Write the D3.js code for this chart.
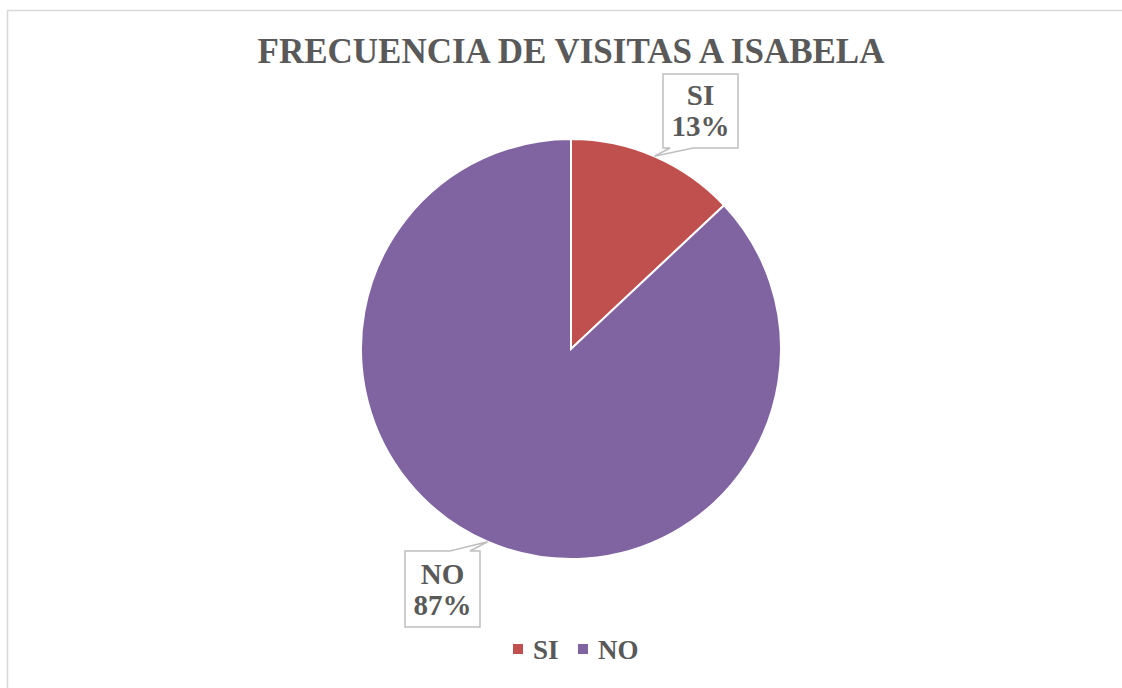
<!DOCTYPE html>
<html lang="es">
<head>
<meta charset="utf-8">
<title>Frecuencia de visitas a Isabela</title>
<script src="https://d3js.org/d3.v7.min.js"></script>
<style>
  body { margin: 0; background: #fff; }
  svg text { font-family: "Liberation Serif", "Times New Roman", serif; font-weight: bold; fill: #595959; }
</style>
</head>
<body>
<svg id="chart" width="1122" height="688"></svg>
<script>
// datos
var categories = ["SI", "NO"];
var values = [13, 87];
var colors = ["#C0504D", "#8064A2"];

var svg = d3.select("#chart"),
    cx = 571, cy = 349, radius = 210;

// marco del grafico
svg.append("rect")
    .attr("x", 7.5).attr("y", 10.5)
    .attr("width", 1130).attr("height", 700)
    .attr("fill", "none").attr("stroke", "#d9d9d9").attr("stroke-width", 1.5);

svg.append("text")
    .attr("x", cx).attr("y", 63)
    .attr("text-anchor", "middle")
    .style("font-size", "35px")
    .text("FRECUENCIA DE VISITAS A ISABELA");

var pie = d3.pie().sort(null).value(function(d) { return d; });
var arcs = pie(values);
var arc = d3.arc().innerRadius(0).outerRadius(radius);
var edge = d3.arc().innerRadius(radius).outerRadius(radius);

var g = svg.append("g").attr("transform", "translate(" + cx + "," + cy + ")");
g.selectAll("path")
    .data(arcs)
    .enter().append("path")
    .attr("d", arc)
    .attr("fill", function(d, i) { return colors[i]; })
    .attr("stroke", "#fff")
    .attr("stroke-width", 2);

// etiquetas con globo
var boxes = [
  { x: 663, y: 74, w: 75, h: 74, base: [670, 693], side: "bottom", lines: [105, 136] },
  { x: 405, y: 551, w: 75, h: 76, base: [450, 470], side: "top", lines: [584, 615] }
];

var total = d3.sum(values);
arcs.forEach(function(d, i) {
  var b = boxes[i];
  var p = edge.centroid(d);
  var ax = cx + p[0], ay = cy + p[1];
  var pts;
  if (b.side === "bottom") {
    pts = [[b.x, b.y], [b.x + b.w, b.y], [b.x + b.w, b.y + b.h], [b.base[1], b.y + b.h],
           [ax, ay], [b.base[0], b.y + b.h], [b.x, b.y + b.h]];
  } else {
    pts = [[b.x, b.y], [b.base[0], b.y], [ax, ay], [b.base[1], b.y], [b.x + b.w, b.y],
           [b.x + b.w, b.y + b.h], [b.x, b.y + b.h]];
  }
  svg.append("path")
      .attr("d", "M" + pts.join("L") + "Z")
      .attr("fill", "#fff")
      .attr("stroke", "#bfbfbf")
      .attr("stroke-width", 1.5);
  var tx = b.x + b.w / 2;
  svg.append("text").attr("x", tx).attr("y", b.lines[0])
      .attr("text-anchor", "middle").style("font-size", "29px")
      .text(categories[i]);
  svg.append("text").attr("x", tx).attr("y", b.lines[1])
      .attr("text-anchor", "middle").style("font-size", "29px")
      .text(d3.format(".0%")(d.value / total));
});

// leyenda
var legendX = [513, 578];
var legend = svg.append("g");
categories.forEach(function(c, i) {
  legend.append("rect")
      .attr("x", legendX[i]).attr("y", 644)
      .attr("width", 10).attr("height", 10)
      .attr("fill", colors[i]);
  legend.append("text")
      .attr("x", legendX[i] + 20).attr("y", 659)
      .style("font-size", "27px")
      .text(c);
});
</script>
</body>
</html>
